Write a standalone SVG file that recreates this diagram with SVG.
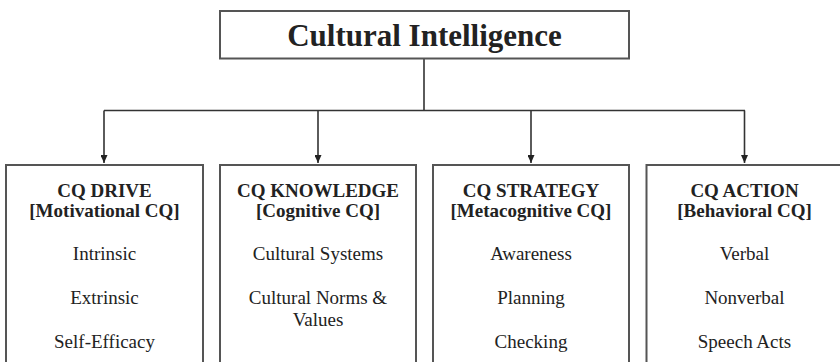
<svg xmlns="http://www.w3.org/2000/svg" width="840" height="362" viewBox="0 0 840 362">
<style>
.box{fill:#fff;stroke:#555;stroke-width:2}
.ln{fill:none;stroke:#333;stroke-width:1.6}
text{font-family:"Liberation Serif","Times New Roman",serif;fill:#222;text-anchor:middle}
.title{font-size:31px;font-weight:bold}
.hd{font-size:19px;font-weight:bold}
.it{font-size:19px}
</style>
<defs>
<marker id="ah" markerWidth="8" markerHeight="7" refX="8" refY="3.5" orient="auto" markerUnits="userSpaceOnUse">
<path d="M0,0 L8,3.5 L0,7 Z" fill="#222"/>
</marker>
</defs>
<g id="connectors">
<path class="ln" d="M424,59 V110.5"/>
<path class="ln" d="M104,110.5 H745"/>
<path class="ln" d="M104,110.5 V163" marker-end="url(#ah)"/>
<path class="ln" d="M318,110.5 V163" marker-end="url(#ah)"/>
<path class="ln" d="M531,110.5 V163" marker-end="url(#ah)"/>
<path class="ln" d="M744.5,110.5 V163" marker-end="url(#ah)"/>
</g>
<g id="root">
<rect class="box" x="220" y="11" width="409" height="47.5"/>
<text class="title" x="424.5" y="46">Cultural Intelligence</text>
</g>
<g id="drive">
<rect class="box" x="6" y="165" width="197" height="210"/>
<text class="hd" x="104.5" y="197">CQ DRIVE</text>
<text class="hd" x="104.5" y="217">[Motivational CQ]</text>
<text class="it" x="104.5" y="260">Intrinsic</text>
<text class="it" x="104.5" y="304">Extrinsic</text>
<text class="it" x="104.5" y="348">Self-Efficacy</text>
</g>
<g id="knowledge">
<rect class="box" x="220" y="165" width="196" height="210"/>
<text class="hd" x="318" y="197">CQ KNOWLEDGE</text>
<text class="hd" x="318" y="217">[Cognitive CQ]</text>
<text class="it" x="318" y="260">Cultural Systems</text>
<text class="it" x="318" y="304">Cultural Norms &amp;</text>
<text class="it" x="318" y="326">Values</text>
</g>
<g id="strategy">
<rect class="box" x="433" y="165" width="196" height="210"/>
<text class="hd" x="531" y="197">CQ STRATEGY</text>
<text class="hd" x="531" y="217">[Metacognitive CQ]</text>
<text class="it" x="531" y="260">Awareness</text>
<text class="it" x="531" y="304">Planning</text>
<text class="it" x="531" y="348">Checking</text>
</g>
<g id="action">
<rect class="box" x="646.5" y="165" width="196" height="210"/>
<text class="hd" x="744.5" y="197">CQ ACTION</text>
<text class="hd" x="744.5" y="217">[Behavioral CQ]</text>
<text class="it" x="744.5" y="260">Verbal</text>
<text class="it" x="744.5" y="304">Nonverbal</text>
<text class="it" x="744.5" y="348">Speech Acts</text>
</g>
</svg>
